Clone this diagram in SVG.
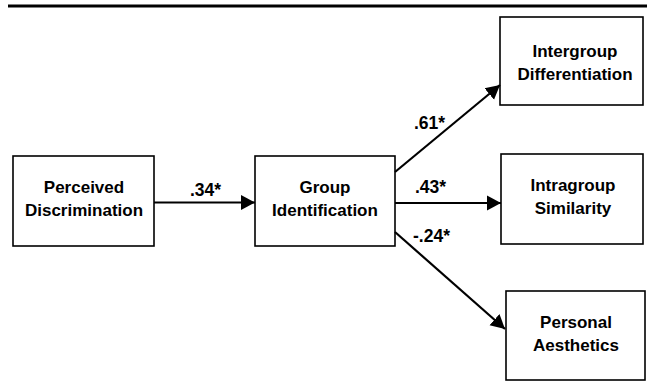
<svg xmlns="http://www.w3.org/2000/svg" width="647" height="383" viewBox="0 0 647 383">
<style>
.box{fill:#fff;stroke:#000;stroke-width:1.6}
.t{font-family:"Liberation Sans",Arial,sans-serif;font-weight:bold;font-size:17px;text-anchor:middle;fill:#000}
.c{stroke:#000;stroke-width:2.2;fill:none;marker-end:url(#ah)}
.l{font-family:"Liberation Sans",Arial,sans-serif;font-weight:bold;font-size:17.5px;fill:#000}
</style>
<defs>
<marker id="ah" markerUnits="userSpaceOnUse" markerWidth="16" markerHeight="16" refX="14" refY="8" orient="auto">
<path d="M0,0.5 L14,8 L0,15.5 Z" fill="#000"/>
</marker>
</defs>
<rect x="8" y="4.5" width="639" height="3" fill="#000"/>
<g id="n1"><rect class="box" x="13" y="156" width="141" height="90"/><text class="t" x="84" y="193">Perceived</text><text class="t" x="84" y="216">Discrimination</text></g>
<g id="n2"><rect class="box" x="255" y="156" width="140" height="90"/><text class="t" x="325" y="193">Group</text><text class="t" x="325" y="216">Identification</text></g>
<g id="n3"><rect class="box" x="500" y="17" width="143" height="88"/><text class="t" x="575" y="57">Intergroup</text><text class="t" x="575" y="80">Differentiation</text></g>
<g id="n4"><rect class="box" x="501" y="154" width="142" height="90"/><text class="t" x="573" y="191">Intragroup</text><text class="t" x="573" y="214">Similarity</text></g>
<g id="n5"><rect class="box" x="506" y="291" width="139" height="89"/><text class="t" x="576" y="328">Personal</text><text class="t" x="576" y="351">Aesthetics</text></g>
<g id="connectors">
<line class="c" x1="154" y1="202.5" x2="255" y2="202.5"/>
<line class="c" x1="395" y1="203" x2="501" y2="203"/>
<line class="c" x1="395" y1="172" x2="500" y2="85"/>
<line class="c" x1="395" y1="232" x2="505" y2="329"/>
<text class="l" x="190" y="196">.34*</text>
<text class="l" x="415" y="193">.43*</text>
<text class="l" x="414" y="129">.61*</text>
<text class="l" x="413" y="242">-.24*</text>
</g>
</svg>
